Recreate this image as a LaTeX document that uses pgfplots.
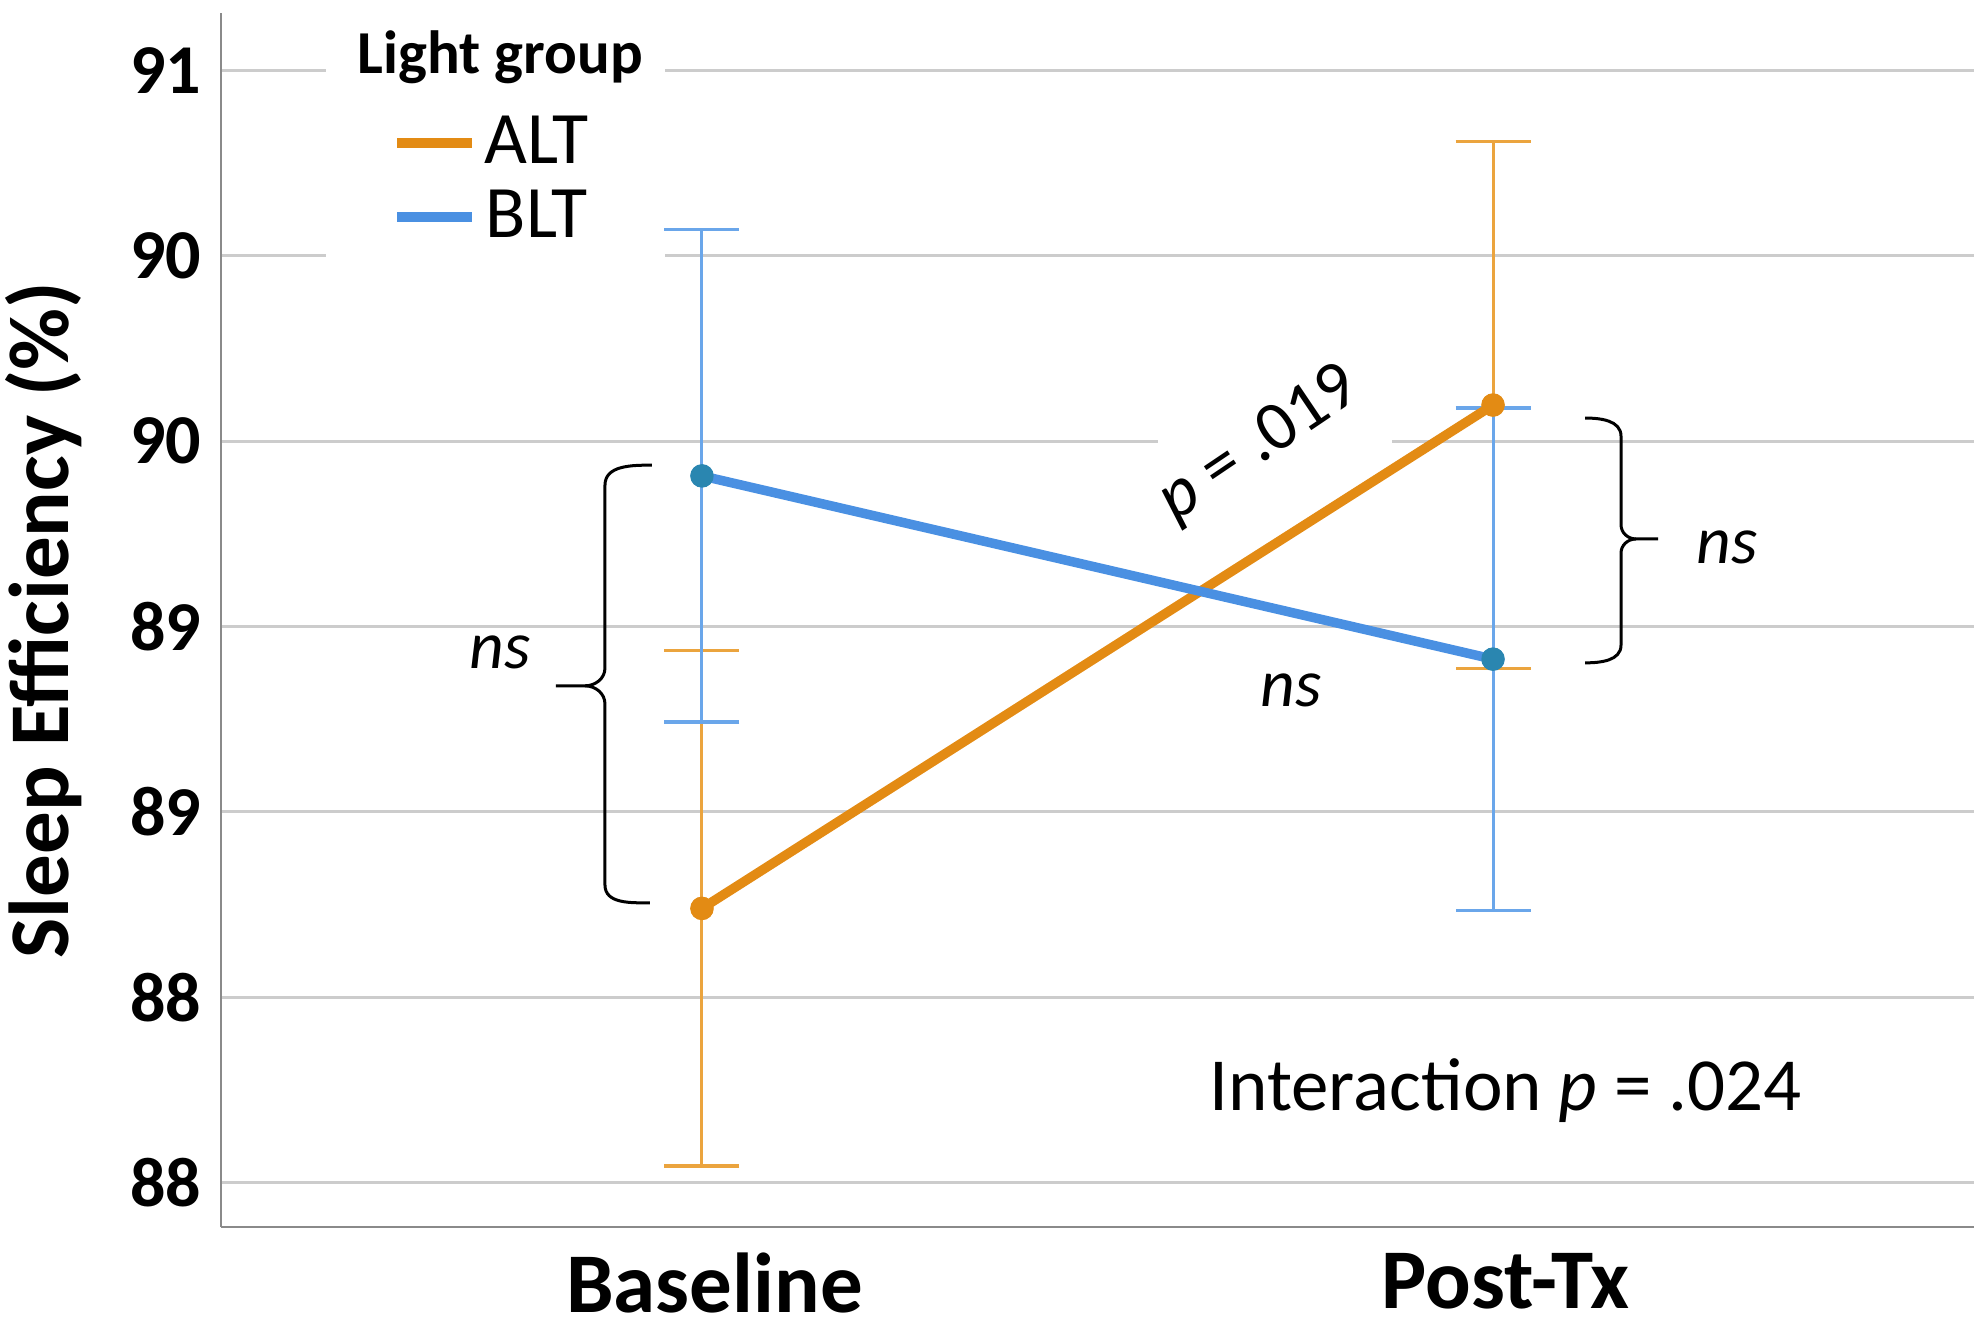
\documentclass[border=0pt]{standalone}
\usepackage{fontspec}
\setmainfont{Carlito}
\usepackage{pgfplots}
\pgfplotsset{compat=1.18}

\definecolor{altline}{HTML}{E38B14}
\definecolor{altbar}{HTML}{EBA43E}
\definecolor{bltline}{HTML}{4A90E2}
\definecolor{bltbar}{HTML}{6AA6EA}
\definecolor{bltmark}{HTML}{2A86B0}
\definecolor{gridgray}{HTML}{CCCCCC}
\definecolor{axisgray}{HTML}{8A8A8A}

\begin{document}
\begin{tikzpicture}
\begin{axis}[
    at={(0,0)}, anchor=south west,
    scale only axis,
    width=350.6pt, height=242.8pt,
    xmin=-0.608, xmax=1.608,
    ymin=87.881, ymax=91.154,
    xtick={0,1},
    xticklabels={Baseline,Post-Tx},
    ytick={88,88.5,89,89.5,90,90.5,91},
    yticklabels={88,88,89,89,90,90,91},
    major tick length=0pt,
    ymajorgrids,
    grid style={line width=0.6pt, gridgray},
    axis lines=left,
    axis line style={-, draw=axisgray, line width=0.5pt},
    xticklabel style={font=\bfseries\fontsize{17}{17}\selectfont, inner sep=0pt, yshift=-5pt, xshift=2.5pt},
    yticklabel style={font=\bfseries\fontsize{14}{14}\selectfont, inner sep=0pt, xshift=-3.8pt},
    clip=false,
    legend style={at={(axis cs:-0.3925,90.90)}, anchor=north west,
        draw=none, fill=none, inner sep=0pt, row sep=0.8pt,
        font=\fontsize{14.8}{15}\selectfont,
        nodes={inner sep=1.5pt}},
    legend image code/.code={\draw[#1] (0pt,0pt) -- (15pt,0pt);},
]
% white patches where the legend and the p label break the grid
\fill[white] (axis cs:-0.475,90.47) rectangle (axis cs:-0.047,91.154);
\fill[white] (axis cs:0.576,89.95) rectangle (axis cs:0.872,90.05);

% error bars
\addplot[altbar, line width=0.6pt, only marks, mark=none, forget plot,
    error bars/.cd, y dir=both, y explicit,
    error bar style={line width=0.6pt, altbar},
    error mark options={rotate=90, mark size=7.5pt, line width=0.7pt, altbar}]
    coordinates {(0,88.740) +- (0,0.695) (1,90.097) +- (0,0.710)};
\addplot[bltbar, line width=0.6pt, only marks, mark=none, forget plot,
    error bars/.cd, y dir=both, y explicit,
    error bar style={line width=0.6pt, bltbar},
    error mark options={rotate=90, mark size=7.5pt, line width=0.7pt, bltbar}]
    coordinates {(0,89.906) +- (0,0.664) (1,89.412) +- (0,0.677)};

% means
\addplot[altline, line width=1.9pt, mark=*, mark size=2.1pt,
    mark options={fill=altline, draw=altline, line width=0.5pt}]
    coordinates {(0,88.740) (1,90.097)};
\addlegendentry{ALT}
\addplot[bltline, line width=1.9pt, mark=*, mark size=2.1pt,
    mark options={fill=bltmark, draw=bltmark, line width=0.5pt}]
    coordinates {(0,89.906) (1,89.412)};
\addlegendentry{BLT}

% legend title
\node[font=\bfseries\fontsize{12.2}{12.2}\selectfont] at (axis cs:-0.255,91.035) {Light group};

% brackets
\draw[line width=0.6pt] (axis cs:-0.0632,89.935) to[out=180,in=90] (axis cs:-0.1226,89.881)
    -- (axis cs:-0.1226,89.388) to[out=-90,in=0] (axis cs:-0.1479,89.340) -- (axis cs:-0.1846,89.340);
\draw[line width=0.6pt] (axis cs:-0.1479,89.340) to[out=0,in=90] (axis cs:-0.1226,89.291)
    -- (axis cs:-0.1226,88.803) to[out=-90,in=180] (axis cs:-0.0657,88.755);
\draw[line width=0.6pt] (axis cs:1.1163,90.062) to[out=0,in=90] (axis cs:1.1618,90.013)
    -- (axis cs:1.1618,89.774) to[out=-90,in=180] (axis cs:1.1808,89.736) -- (axis cs:1.2086,89.736);
\draw[line width=0.6pt] (axis cs:1.1808,89.736) to[out=180,in=90] (axis cs:1.1618,89.698)
    -- (axis cs:1.1618,89.450) to[out=-90,in=0] (axis cs:1.1163,89.402);

% annotations
\node[font=\itshape\fontsize{13.5}{13.5}\selectfont] at (axis cs:-0.255,89.431) {ns};
\node[font=\itshape\fontsize{13.5}{13.5}\selectfont] at (axis cs:1.296,89.712) {ns};
\node[font=\itshape\fontsize{13.5}{13.5}\selectfont] at (axis cs:0.745,89.329) {ns};
\node[rotate=34, font=\fontsize{14}{14}\selectfont] at (axis cs:0.705,89.99) {\textit{p} = .019};
\node[font=\fontsize{15}{15}\selectfont] at (axis cs:1.016,88.248) {Interaction \textit{p} = .024};

\node[rotate=90, font=\bfseries\fontsize{17}{17}\selectfont] at ([xshift=-35.4pt]rel axis cs:0,0.5) {Sleep Efficiency (\%)};
\end{axis}
\pgfresetboundingbox
\useasboundingbox (-44.2pt,-20.8pt) rectangle (352.4pt,245.4pt);
\end{tikzpicture}
\end{document}
